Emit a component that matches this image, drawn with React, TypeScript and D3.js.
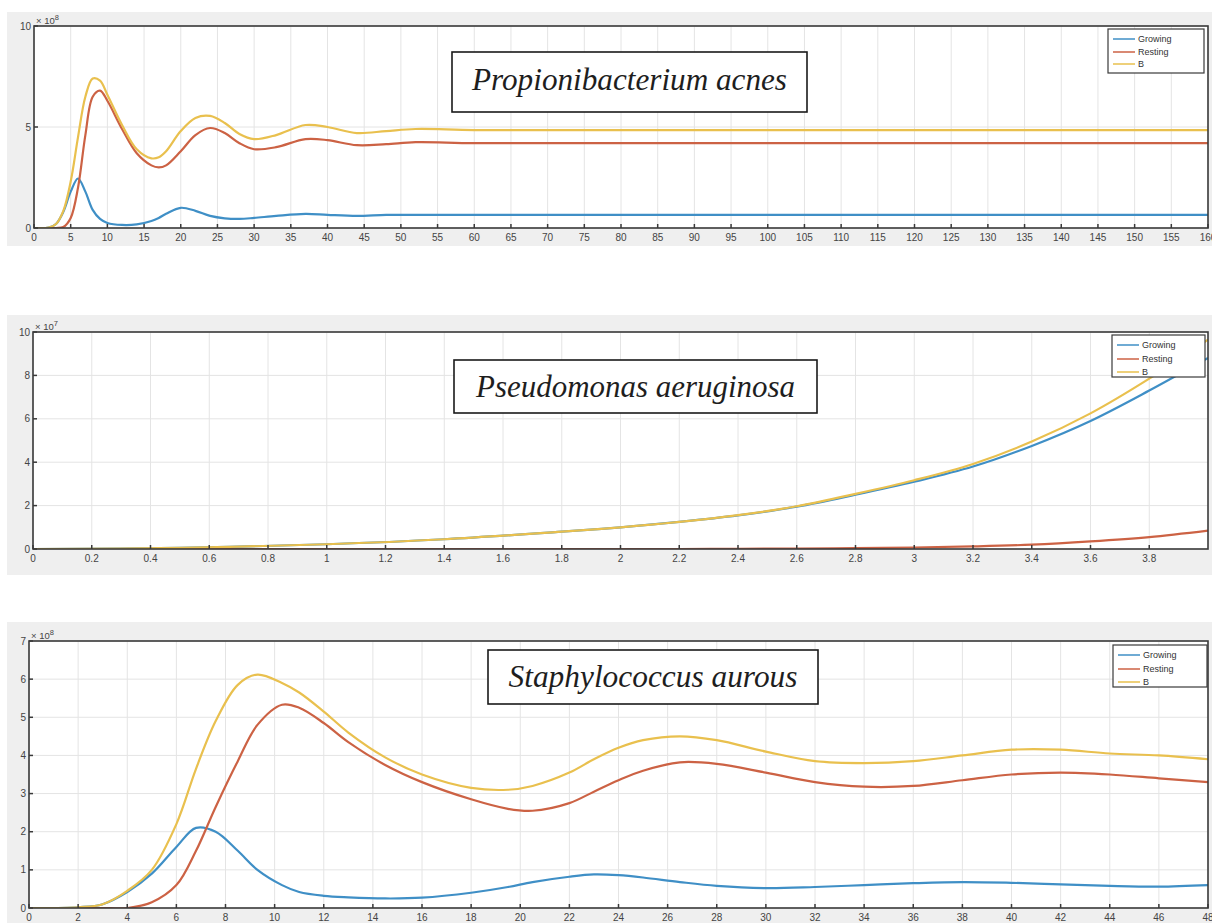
import React from 'react';
import * as d3 from 'd3';

// ---- data ----
const seriesNames = ['Growing', 'Resting', 'B'];
const seriesColors = ['#3f8fc6', '#cc6244', '#e9c04e'];

// Propionibacterium acnes, y in 1e8
const acnesTime = [0, 2, 3, 4, 5, 6, 7, 8, 9, 10, 12, 14, 16, 17, 18, 20, 22, 24, 26, 28, 30, 33, 37, 40, 44, 48, 52, 60, 80, 160];
const acnesGrowing = [0, 0.02, 0.2, 0.8, 1.8, 2.45, 1.8, 0.9, 0.45, 0.25, 0.15, 0.18, 0.35, 0.5, 0.7, 1.0, 0.85, 0.6, 0.48, 0.45, 0.5, 0.6, 0.7, 0.65, 0.6, 0.65, 0.65, 0.65, 0.65, 0.65];
const acnesResting = [0, 0, 0, 0.05, 0.5, 2.0, 4.6, 6.5, 6.8, 6.3, 4.9, 3.7, 3.1, 3.0, 3.1, 3.8, 4.6, 4.95, 4.7, 4.2, 3.9, 4.0, 4.4, 4.35, 4.1, 4.15, 4.25, 4.2, 4.2, 4.2];
const acnesB = [0, 0.02, 0.2, 0.85, 2.3, 4.5, 6.5, 7.4, 7.3, 6.6, 5.1, 3.9, 3.45, 3.5, 3.8, 4.8, 5.45, 5.55, 5.2, 4.65, 4.4, 4.6, 5.1, 5.0, 4.7, 4.8, 4.9, 4.85, 4.85, 4.85];
const acnesXTicks = d3.range(0, 161, 5);
const acnesYTicks = [0, 5, 10];

// Pseudomonas aeruginosa, y in 1e7
const pseudoTime = [0, 0.5, 1, 1.4, 1.8, 2, 2.2, 2.4, 2.6, 2.8, 3, 3.2, 3.4, 3.6, 3.8, 4];
const pseudoGrowing = [0, 0.05, 0.22, 0.45, 0.8, 1.0, 1.25, 1.55, 1.95, 2.5, 3.1, 3.8, 4.75, 5.9, 7.3, 8.8];
const pseudoResting = [0, 0, 0, 0, 0, 0, 0, 0.01, 0.02, 0.04, 0.07, 0.12, 0.2, 0.35, 0.55, 0.85];
const pseudoB = [0, 0.05, 0.22, 0.45, 0.8, 1.0, 1.25, 1.56, 1.97, 2.54, 3.17, 3.92, 4.95, 6.25, 7.85, 9.65];
const pseudoXTicks = d3.range(0, 20).map((i) => +(i * 0.2).toFixed(1));
const pseudoYTicks = [0, 2, 4, 6, 8, 10];

// Staphylococcus aurous, y in 1e8
const staphTime = [0, 2, 3, 4, 5, 6, 6.8, 7.6, 8.5, 9.3, 10.3, 11, 12, 13, 14.5, 16, 18, 19.5, 20.5, 22, 23, 24, 25, 26.5, 28, 30, 32, 34, 36, 38, 40, 42, 44, 46, 48];
const staphGrowing = [0, 0.02, 0.1, 0.42, 0.9, 1.6, 2.1, 2.0, 1.5, 1.0, 0.6, 0.42, 0.32, 0.28, 0.25, 0.27, 0.4, 0.55, 0.68, 0.82, 0.88, 0.86, 0.8, 0.68, 0.58, 0.52, 0.55, 0.6, 0.65, 0.68, 0.66, 0.62, 0.58, 0.56, 0.6];
const staphResting = [0, 0, 0, 0, 0.15, 0.6, 1.5, 2.65, 3.85, 4.8, 5.33, 5.25, 4.85, 4.35, 3.75, 3.3, 2.85, 2.6, 2.55, 2.75, 3.05, 3.35, 3.6, 3.82, 3.78, 3.55, 3.3, 3.18, 3.2, 3.35, 3.5, 3.55, 3.5, 3.4, 3.3];
const staphB = [0, 0.02, 0.1, 0.45, 1.0, 2.2, 3.65, 4.9, 5.85, 6.12, 5.9, 5.65, 5.15, 4.6, 3.95, 3.5, 3.15, 3.1, 3.2, 3.55, 3.9, 4.2, 4.4, 4.5, 4.4, 4.1, 3.85, 3.8, 3.85, 4.0, 4.15, 4.15, 4.05, 4.0, 3.9];
const staphXTicks = d3.range(0, 49, 2);
const staphYTicks = [0, 1, 2, 3, 4, 5, 6, 7];

const tickFont = 'Liberation Sans, Arial, sans-serif';

const Panel = ({ bg, frame, xMax, yMax, xTicks, yTicks, exponent, time, values, title, box, legend }) => {
  const x = d3.scaleLinear().domain([0, xMax]).range([frame.left, frame.right]);
  const y = d3.scaleLinear().domain([0, yMax]).range([frame.bottom, frame.top]);
  const line = d3
    .line()
    .x((d) => x(d[0]))
    .y((d) => y(d[1]))
    .curve(d3.curveCatmullRom.alpha(0.5));
  const w = frame.right - frame.left;
  const h = frame.bottom - frame.top;

  return (
    <g>
      <rect x={7} y={bg[0]} width={1212} height={bg[1] - bg[0]} fill="#efefef" />
      <rect x={frame.left} y={frame.top} width={w} height={h} fill="#fff" />
      {/* grid */}
      {xTicks.map((t, i) => (
        <line key={'gx' + i} x1={x(t)} x2={x(t)} y1={frame.top} y2={frame.bottom} stroke="#e4e4e4" strokeWidth={1} />
      ))}
      {yTicks.map((t, i) => (
        <line key={'gy' + i} x1={frame.left} x2={frame.right} y1={y(t)} y2={y(t)} stroke="#e4e4e4" strokeWidth={1} />
      ))}
      {/* curves */}
      <clipPath id={'clip' + frame.top}>
        <rect x={frame.left} y={frame.top} width={w} height={h} />
      </clipPath>
      <g clipPath={`url(#clip${frame.top})`}>
        {values.map((v, i) => (
          <path
            key={i}
            d={line(time.map((t, j) => [t, v[j]]))}
            fill="none"
            stroke={seriesColors[i]}
            strokeWidth={2.2}
            strokeLinejoin="round"
          />
        ))}
      </g>
      {/* axes box */}
      <rect x={frame.left} y={frame.top} width={w} height={h} fill="none" stroke="#3a3a3a" strokeWidth={1.6} />
      {xTicks.map((t, i) => (
        <g key={'tx' + i}>
          <line x1={x(t)} x2={x(t)} y1={frame.bottom} y2={frame.bottom - 4} stroke="#3a3a3a" strokeWidth={1.5} />
          <text x={x(t)} y={frame.bottom + 13} textAnchor="middle" fontSize={10} fill="#444" fontFamily={tickFont}>
            {t}
          </text>
        </g>
      ))}
      {yTicks.map((t, i) => (
        <g key={'ty' + i}>
          <line x1={frame.left} x2={frame.left + 4} y1={y(t)} y2={y(t)} stroke="#3a3a3a" strokeWidth={1.5} />
          <text x={frame.left - 3} y={y(t) + 3.5} textAnchor="end" fontSize={10} fill="#444" fontFamily={tickFont}>
            {t}
          </text>
        </g>
      ))}
      <text x={frame.left + 2} y={frame.top - 2} fontSize={9.5} fill="#444" fontFamily={tickFont}>
        × 10
        <tspan dy={-4} fontSize={7.5}>
          {exponent}
        </tspan>
      </text>
      {/* title box */}
      <rect x={box.x} y={box.y} width={box.w} height={box.h} fill="#fff" stroke="#1a1a1a" strokeWidth={1.6} />
      <text
        x={box.x + box.w / 2}
        y={box.baseline}
        textAnchor="middle"
        fontSize={31}
        fontStyle="italic"
        fontFamily="Liberation Serif, DejaVu Serif, serif"
        fill="#1e1e1e"
        textLength={box.textWidth}
        lengthAdjust="spacingAndGlyphs"
      >
        {title}
      </text>
      {/* legend */}
      <rect x={legend.x} y={legend.y} width={legend.w} height={legend.h} fill="#fff" stroke="#3a3a3a" strokeWidth={1.2} />
      {seriesNames.map((name, i) => (
        <g key={name}>
          <line
            x1={legend.x + 5}
            x2={legend.x + 27}
            y1={legend.y + legend.rows[i]}
            y2={legend.y + legend.rows[i]}
            stroke={seriesColors[i]}
            strokeWidth={1.5}
          />
          <text x={legend.x + 30} y={legend.y + legend.rows[i] + 3} fontSize={9} fill="#333" fontFamily={tickFont}>
            {name}
          </text>
        </g>
      ))}
    </g>
  );
};

const App = () => {
  return (
    <svg width={1212} height={923} style={{ position: 'absolute', left: 0, top: 0, background: '#fff' }}>
      <Panel
        bg={[12, 246]}
        frame={{ left: 34, right: 1208, top: 26, bottom: 228 }}
        xMax={160}
        yMax={10}
        xTicks={acnesXTicks}
        yTicks={acnesYTicks}
        exponent="8"
        time={acnesTime}
        values={[acnesGrowing, acnesResting, acnesB]}
        title="Propionibacterium  acnes"
        box={{ x: 452, y: 52, w: 355, h: 60, baseline: 90, textWidth: 315 }}
        legend={{ x: 1108, y: 29, w: 96, h: 44, rows: [10, 23, 35] }}
      />
      <Panel
        bg={[315, 575]}
        frame={{ left: 33, right: 1208, top: 332, bottom: 549 }}
        xMax={4}
        yMax={10}
        xTicks={pseudoXTicks}
        yTicks={pseudoYTicks}
        exponent="7"
        time={pseudoTime}
        values={[pseudoGrowing, pseudoResting, pseudoB]}
        title="Pseudomonas aeruginosa"
        box={{ x: 454, y: 360, w: 363, h: 53, baseline: 397, textWidth: 319 }}
        legend={{ x: 1112, y: 335, w: 93, h: 42, rows: [10, 24, 37] }}
      />
      <Panel
        bg={[622, 923]}
        frame={{ left: 29, right: 1208, top: 641, bottom: 908 }}
        xMax={48}
        yMax={7}
        xTicks={staphXTicks}
        yTicks={staphYTicks}
        exponent="8"
        time={staphTime}
        values={[staphGrowing, staphResting, staphB]}
        title="Staphylococcus  aurous"
        box={{ x: 488, y: 650, w: 330, h: 54, baseline: 687, textWidth: 289 }}
        legend={{ x: 1113, y: 645, w: 94, h: 42, rows: [10, 24, 37] }}
      />
    </svg>
  );
};

export default App;
